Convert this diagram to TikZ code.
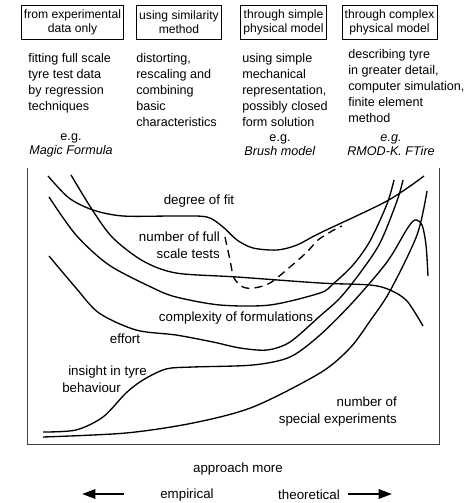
\documentclass[tikz,border=0pt]{standalone}
\usepackage{fontspec}
\setmainfont{Liberation Sans}
\usetikzlibrary{arrows.meta}

\tikzstyle{method}=[draw,line width=0.6pt,align=center,inner xsep=2pt,minimum height=26pt,font=\fontsize{9.1}{10.5}\selectfont]
\tikzstyle{remark}=[align=left,anchor=north west,inner sep=0pt,font=\fontsize{9.45}{12}\selectfont]
\tikzstyle{example}=[align=center,inner sep=0pt,font=\fontsize{9.45}{10.5}\selectfont]
\tikzstyle{curve}=[line width=1pt]
\tikzstyle{curvetext}=[inner sep=0pt,font=\fontsize{10}{12.75}\selectfont]
\tikzstyle{bigarrow}=[line width=1.6pt,-{Triangle[length=10pt,width=7pt]}]

\begin{document}
\begin{tikzpicture}[x=0.75pt,y=-0.75pt]
		\useasboundingbox (0,0) rectangle (469,503);
		% the four ways of modelling
		\node[method] (experimental) at (72.5,22.5) {from experimental\\data only};
		\node[method] (similarity) at (179,22.5) {using similarity\\method};
		\node[method] (simple) at (283.5,22.5) {through simple\\physical model};
		\node[method] (complex) at (389.5,22.5) {through complex\\physical model};
		\node[remark] (fitting) at (28,53) {fitting full scale\\tyre test data\\by regression\\techniques};
		\node[remark] (distorting) at (136,53) {distorting,\\rescaling and\\combining\\basic\\characteristics};
		\node[remark] (mechanical) at (242,53) {using simple\\mechanical\\representation,\\possibly closed\\form solution};
		\node[remark] (detail) at (348,49) {describing tyre\\in greater detail,\\computer simulation,\\finite element\\method};
		\node[example] (magic) at (71,145) {e.g.\\\textit{Magic Formula}};
		\node[example] (brush) at (280,145) {e.g.\\\textit{Brush model}};
		\node[example] (ftire) at (391,145) {\textit{e.g.}\\\textit{RMOD-K. FTire}};
		% frame, open at the top
		\draw[line width=0.7pt,black!75] (27,168) -- (27,444) -- (439,444) -- (439,168);
		% the curves
		\draw[curve] plot[smooth] coordinates {(48,176) (69,198) (93,210) (123,216) (176,216) (207,217) (223,227) (237,240) (253,248) (277,250) (297,245) (320,233) (387,201) (424,176)};
		\draw[curve] plot[smooth] coordinates {(71,175) (93,211) (113,238) (143,261) (176,273) (237,277) (320,283) (370,285) (390,290) (407,301) (423,326)};
		\draw[curve,dash pattern=on 6pt off 4pt] plot[smooth] coordinates {(225,237) (230,260) (234,278) (243,287) (254,288) (270,283) (290,267) (307,252) (318,240) (332,231) (342,226)};
		\draw[curve] plot[smooth] coordinates {(49,197) (76,235) (109,265) (153,288) (176,297) (220,305) (270,305) (320,293) (333,284) (353,265) (370,241) (387,204) (394,180)};
		\draw[curve] plot[smooth] coordinates {(49,256) (76,288) (99,313) (136,330) (176,335) (213,342) (240,348) (267,350) (290,342) (320,316) (340,298) (360,273) (380,243) (397,201) (403,180)};
		\draw[curve] plot[smooth] coordinates {(43,432) (76,430) (103,417) (126,393) (143,380) (166,369) (193,367) (253,365) (290,357) (320,335) (353,302) (387,262) (407,229) (415,220) (422,225) (426,245) (428,276)};
		\draw[curve] plot[smooth] coordinates {(43,437) (126,433) (193,423) (253,407) (320,373) (350,348) (370,321) (390,291) (417,235) (427,191)};
		% labels of the curves
		\node[curvetext] (fit) at (199,201) {degree of fit};
		\node[curvetext,align=right,anchor=east] (tests) at (220,245.5) {number of full\\scale tests};
		\node[curvetext] (formulations) at (236,318) {complexity of formulations};
		\node[curvetext] (effort) at (125,339) {effort};
		\node[curvetext,anchor=west] (insight) at (68,372) {insight in tyre};
		\node[curvetext,anchor=west] (behaviour) at (62,388) {behaviour};
		\node[curvetext,align=right,anchor=east] (special) at (397,412) {number of\\special experiments};
		% approach
		\node[curvetext] (approach) at (238,469) {approach more};
		\node[curvetext] (empirical) at (187,495) {empirical};
		\node[curvetext] (theoretical) at (309,495) {theoretical};
		\coordinate (ltail) at (124,494);
		\coordinate (lhead) at (82,494);
		\coordinate (rtail) at (348,494);
		\coordinate (rhead) at (392,494);
		\draw[bigarrow] (ltail) -- (lhead);
		\draw[bigarrow] (rtail) -- (rhead);
\end{tikzpicture}
\end{document}
